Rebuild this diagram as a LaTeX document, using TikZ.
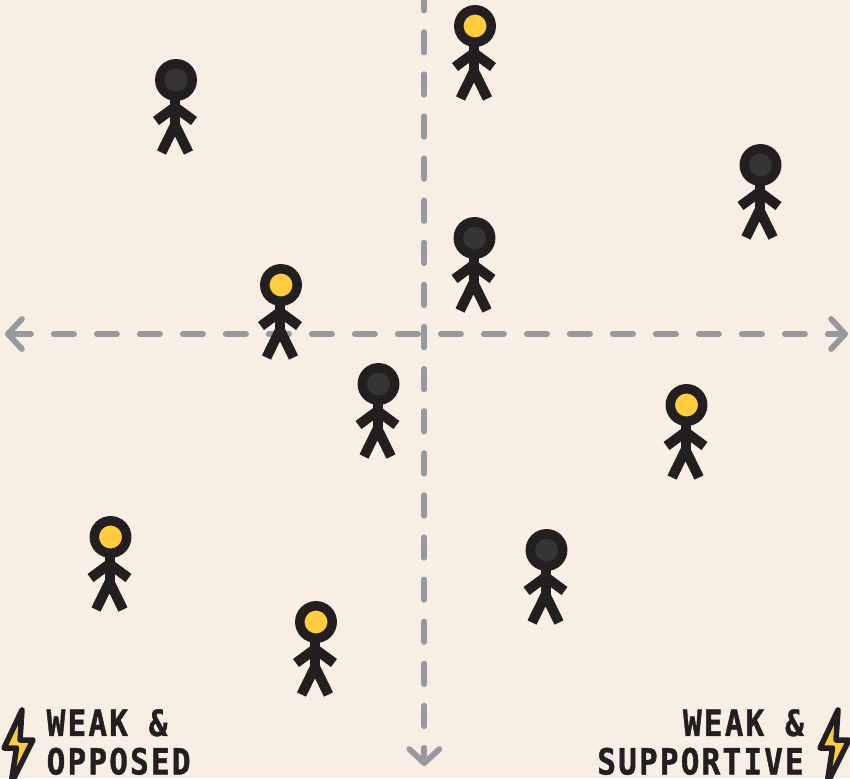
\documentclass[tikz,border=0pt]{standalone}
\usepackage{fontspec}
\usepackage{xcolor}
\usetikzlibrary{arrows.meta}
\newfontfamily\labelfont[FakeStretch=0.86,LetterSpace=6.2,FakeBold=1.2]{DejaVu Sans Mono Bold}
\definecolor{paper}{HTML}{F8EEE3}
\definecolor{axisgray}{HTML}{97999E}
\definecolor{figureblack}{HTML}{231F20}
\definecolor{headdark}{HTML}{353533}
\definecolor{headyellow}{HTML}{FFCB3F}
\tikzset{
  axisline/.style={draw=axisgray,line width=5.8pt,line cap=round,
    >={Straight Barb[length=14pt,width=30pt,round]},
    dash pattern=on 20.2pt off 22.8pt},
  downline/.style={axisline,dash pattern=on 20.5pt off 21.6pt},
  limbline/.style={draw=figureblack,line width=10pt,line cap=butt,line join=miter},
  cornerlabel/.style={font=\labelfont\fontsize{36}{38.5}\selectfont,text=figureblack,inner sep=0pt,anchor=north west},
  boltshape/.style={draw=figureblack,fill=headyellow,line width=5.5pt,line join=round},
  pics/stickfigure/.style={code={
    \draw[limbline] (-1,20)--(-1,54);
    \draw[limbline] (-20,41)--(-1,27)--(18,41);
    \draw[limbline] (-14.5,72.5)--(-1,45)--(12.5,72.5);
    \draw[draw=figureblack,fill=#1,line width=9.5pt] (0,0) circle[radius=16.2];
  }},
  pics/bolt/.style={code={
    \draw[boltshape] (22,710)--(4,748)--(16.5,748)--(11,784)--(33,740)--(20,740)--cycle;
  }}
}
\begin{document}
\begin{tikzpicture}[x=1pt,y=-1pt]
  \fill[paper] (0,0) rectangle (850,778);
  \useasboundingbox (0,0) rectangle (850,778);
  % axes
  \coordinate (west) at (5,334);
  \coordinate (east) at (848,334);
  \coordinate (north) at (424.3,-10);
  \coordinate (south) at (424.3,766);
  \draw[axisline,<->] (west)--(east);
  \draw[downline,->] (north)--(south);
  % people
  \foreach \px/\py/\headcol in {176/80/headdark,760.5/165/headdark,474.5/238/headdark,
      378.5/384/headdark,546.5/550/headdark,475/26/headyellow,281/285/headyellow,
      686.5/405/headyellow,110.5/537/headyellow,316/622/headyellow}
    \pic at (\px,\py) {stickfigure=\headcol};
  % corners
  \pic at (0,0) {bolt};
  \pic at (816,0) {bolt};
  \node[cornerlabel,align=left] (opposed) at (46.5,709) {WEAK \&\\OPPOSED};
  \node[cornerlabel,align=right,anchor=north east] (supportive) at (804,709) {WEAK \&\\SUPPORTIVE};
\end{tikzpicture}
\end{document}
